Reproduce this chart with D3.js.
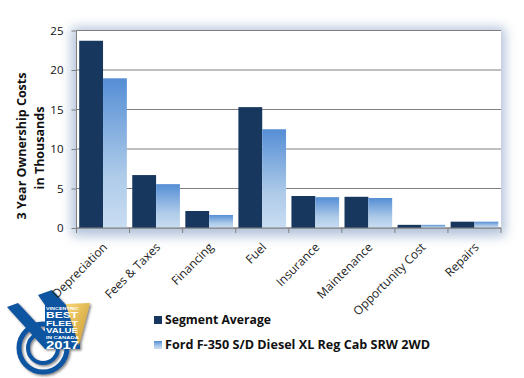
<!DOCTYPE html>
<html>
<head>
<meta charset="utf-8">
<script src="https://cdn.jsdelivr.net/npm/d3@7"></script>
<style>
html, body { margin: 0; padding: 0; background: #fff; }
svg { display: block; }
text { font-family: "Open Sans", sans-serif; }
</style>
</head>
<body>
<div id="Chart"></div>
<script>
var categories = ["Depreciation", "Fees & Taxes", "Financing", "Fuel", "Insurance", "Maintenance", "Opportunity Cost", "Repairs"];
var segmentAverage = [23.7, 6.7, 2.15, 15.3, 4.05, 3.95, 0.4, 0.8];
var fordF350 = [18.95, 5.55, 1.65, 12.5, 3.9, 3.8, 0.4, 0.8];
var yTicks = [0, 5, 10, 15, 20, 25];
var seriesNames = ["Segment Average", "Ford F-350 S/D Diesel XL Reg Cab SRW 2WD"];

var width = 524, height = 378;
var margin = {top: 30.5, right: 23, bottom: 150, left: 76.5};
var ew = width - margin.left - margin.right;
var eh = height - margin.top - margin.bottom;

var SVG = d3.select("#Chart").append("svg")
	.attr("width", width)
	.attr("height", height);

var defs = SVG.append("defs");
var grad = defs.append("linearGradient").attr("id", "barGrad")
	.attr("x1", 0).attr("y1", 0).attr("x2", 0).attr("y2", 1);
grad.append("stop").attr("offset", "0%").attr("stop-color", "#558ed5");
grad.append("stop").attr("offset", "65%").attr("stop-color", "#aecbe9");
grad.append("stop").attr("offset", "100%").attr("stop-color", "#c9ddf2");

defs.append("filter").attr("id", "plotShadow")
	.attr("x", "-10%").attr("y", "-15%").attr("width", "120%").attr("height", "130%")
	.append("feGaussianBlur").attr("stdDeviation", 6);
defs.append("filter").attr("id", "logoShadow")
	.attr("x", "-20%").attr("y", "-20%").attr("width", "140%").attr("height", "140%")
	.append("feDropShadow").attr("dx", 1.5).attr("dy", 1.5)
	.attr("stdDeviation", 1.2).attr("flood-color", "#333").attr("flood-opacity", 0.6);

// badge goes first so the rotated labels stay on top of it
var logo = SVG.append("g").attr("filter", "url(#logoShadow)");
var blue = "#0f55a0";
logo.append("circle").attr("cx", 43).attr("cy", 348).attr("r", 24)
	.attr("fill", "none").attr("stroke", blue).attr("stroke-width", 5);
logo.append("circle").attr("cx", 43).attr("cy", 348).attr("r", 15)
	.attr("fill", "none").attr("stroke", blue).attr("stroke-width", 4);
logo.append("path").attr("fill", blue)
	.attr("d", "M7,307L18,303L45,332V305L38,295L52,290L66,305H80V349H45Z");
var shield = defs.append("linearGradient").attr("id", "goldGrad")
	.attr("x1", 0).attr("y1", 0).attr("x2", 1).attr("y2", 1);
shield.append("stop").attr("offset", "0%").attr("stop-color", "#f7d774");
shield.append("stop").attr("offset", "100%").attr("stop-color", "#c9962f");
logo.append("path").attr("fill", "url(#goldGrad)")
	.attr("d", "M66,304L90,303L78,349H66Z");
logo.append("path").attr("fill", blue)
	.attr("d", "M45,305H66L80,349H45Z");
SVG.append("g")
	.attr("fill", "#fff").attr("font-weight", "bold")
	.selectAll("text")
	.data([
		{t: "VINCENTRIC", y: 309.5, size: 4.2, w: 33},
		{t: "BEST", y: 318, size: 9, w: 32},
		{t: "FLEET", y: 325.5, size: 8, w: 32},
		{t: "VALUE", y: 333, size: 8, w: 32},
		{t: "IN CANADA", y: 338.5, size: 4.2, w: 33},
		{t: "2017", y: 349, size: 10.5, w: 33}
	])
	.join("text")
	.attr("x", 46).attr("y", d => d.y)
	.attr("font-size", d => d.size + "px")
	.attr("textLength", d => d.w)
	.attr("lengthAdjust", "spacingAndGlyphs")
	.style("font-family", "'Liberation Sans', sans-serif")
	.text(d => d.t);

var svg = SVG.append("g")
	.attr("transform", "translate(" + margin.left + "," + margin.top + ")");

// soft shadow behind the plot area
svg.append("rect")
	.attr("x", -5).attr("y", -3)
	.attr("width", ew + 9).attr("height", eh + 11)
	.attr("fill", "#7f99c0").attr("opacity", 0.6)
	.attr("filter", "url(#plotShadow)");
svg.append("rect")
	.attr("width", ew).attr("height", eh)
	.attr("fill", "#fff");

var x = d3.scaleBand().domain(categories).range([0, ew]).paddingInner(0).paddingOuter(0);
var y = d3.scaleLinear().domain([0, 25]).range([eh, 0]);
var sub = d3.scaleBand().domain([0, 1]).range([2.7, x.bandwidth() - 2.7]);

// gridlines
svg.append("g").selectAll("line")
	.data(yTicks)
	.join("line")
	.attr("x1", 0).attr("x2", ew)
	.attr("y1", d => y(d)).attr("y2", d => y(d))
	.attr("stroke", "#808080").attr("stroke-width", 1);

// bars
[segmentAverage, fordF350].forEach(function(values, s) {
	svg.append("g").selectAll("rect")
		.data(values)
		.join("rect")
		.attr("x", (d, i) => x(categories[i]) + sub(s))
		.attr("y", d => y(d))
		.attr("width", sub.bandwidth())
		.attr("height", d => y(0) - y(d))
		.attr("fill", s == 0 ? "#17375e" : "url(#barGrad)");
});

// y axis
var yAxis = svg.append("g")
	.call(d3.axisLeft(y).tickValues(yTicks).tickSize(5).tickPadding(8));
yAxis.selectAll("text").attr("font-size", "11.5px").attr("fill", "#111");
yAxis.selectAll("line, path").attr("stroke", "#808080");
yAxis.select("path").attr("d", "M0,0V" + eh);

// x axis, ticks sit on the band edges
var xAxisG = svg.append("g").attr("transform", "translate(0," + eh + ")");
xAxisG.append("line").attr("x1", 0).attr("x2", ew).attr("stroke", "#808080");
xAxisG.selectAll("line.tick")
	.data(d3.range(categories.length + 1))
	.join("line")
	.attr("class", "tick")
	.attr("x1", d => d * x.bandwidth()).attr("x2", d => d * x.bandwidth())
	.attr("y1", 0).attr("y2", 5)
	.attr("stroke", "#808080");
xAxisG.selectAll("text.cat")
	.data(categories)
	.join("text")
	.attr("class", "cat")
	.attr("text-anchor", "end")
	.attr("font-size", "12px")
	.attr("fill", "#222")
	.attr("transform", d => "translate(" + (x(d) + x.bandwidth() / 2 + 5) + ",20) rotate(-45)")
	.text(d => d);

// y title
var title = SVG.append("g")
	.attr("transform", "translate(26,146) rotate(-90)")
	.attr("text-anchor", "middle")
	.attr("font-size", "12.5px")
	.attr("font-weight", "bold")
	.attr("fill", "#111");
title.append("text").attr("y", 0).text("3  Year Ownership Costs");
title.append("text").attr("y", 18).attr("x", -2).text("in Thousands");

// legend
var legend = SVG.append("g");
var legendY = [320, 345];
var legendWidth = [106, 265];
legend.selectAll("rect")
	.data(seriesNames)
	.join("rect")
	.attr("x", 154).attr("y", (d, i) => legendY[i] - 4)
	.attr("width", 8).attr("height", 8)
	.attr("fill", (d, i) => i == 0 ? "#17375e" : "url(#barGrad)");
legend.selectAll("text")
	.data(seriesNames)
	.join("text")
	.attr("x", 165).attr("y", (d, i) => legendY[i] + 4)
	.attr("font-size", "12.5px")
	.attr("font-weight", "bold")
	.attr("fill", "#111")
	.attr("textLength", (d, i) => legendWidth[i])
	.attr("lengthAdjust", "spacingAndGlyphs")
	.text(d => d);
</script>
</body>
</html>
